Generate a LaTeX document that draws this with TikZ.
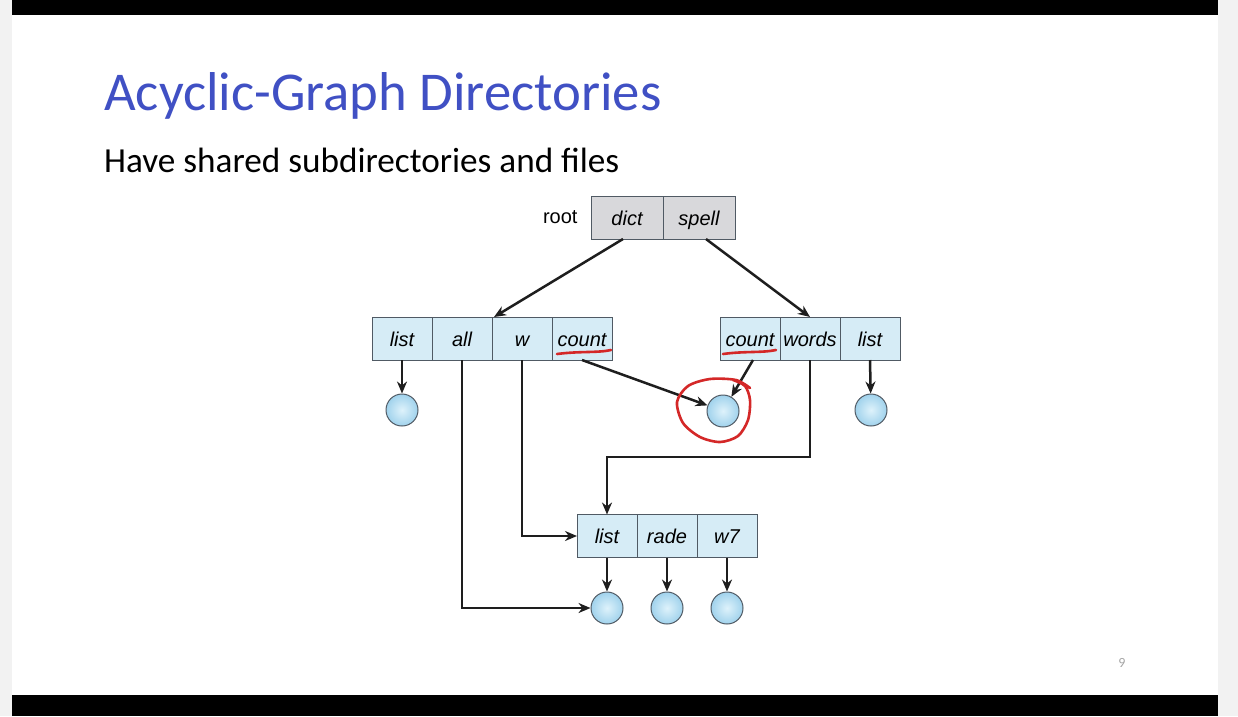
\documentclass[tikz,border=0pt]{standalone}
\usepackage{fontspec}
\setmainfont{Carlito}
\newfontfamily\cellfont{Liberation Sans}
\usetikzlibrary{positioning,arrows.meta}

\begin{document}
\begin{tikzpicture}[x=1pt, y=-1pt,
  cell/.style={draw=cellline, fill=dirblue, line width=1pt, minimum width=60pt,
    minimum height=43pt, inner sep=0pt, outer sep=0pt, text height=17pt, text depth=2pt,
    font=\cellfont\fontsize{20}{20}\selectfont\itshape},
  rootcell/.style={cell, fill=rootgray, minimum width=72pt},
  file/.style={circle, draw=cellline, line width=1pt, minimum size=32pt, inner sep=0pt,
    inner color=fileinner, outer color=fileouter},
  link/.style={draw=linkcol, line width=2.5pt, -{Stealth[length=12pt,width=10pt]}},
  redmark/.style={draw=markred, line width=2.6pt, line cap=round, line join=round}]
\definecolor{cellline}{RGB}{80,90,100}
\definecolor{dirblue}{RGB}{214,236,246}
\definecolor{rootgray}{RGB}{216,216,219}
\definecolor{fileinner}{RGB}{222,242,251}
\definecolor{fileouter}{RGB}{160,210,236}
\definecolor{linkcol}{RGB}{30,30,30}
\definecolor{markred}{RGB}{212,40,40}
\definecolor{titleblue}{RGB}{64,80,196}
\definecolor{sidegray}{gray}{0.95}

% slide background
\useasboundingbox (0,0) rectangle (1238,716);
\fill[white] (0,0) rectangle (1238,716);
\fill[sidegray] (0,0) rectangle (12,716);
\fill[sidegray] (1218,0) rectangle (1238,716);
\fill[black] (12,0) rectangle (1218,15);
\fill[black] (12,695) rectangle (1218,716);

\node[anchor=base west, inner sep=0pt, text=titleblue, font=\fontsize{54.7}{60}\selectfont]
  (title) at (104,110) {Acyclic-Graph Directories};
\node[anchor=base west, inner sep=0pt, font=\fontsize{35.2}{40}\selectfont]
  (subtitle) at (104,172) {Have shared subdirectories and files};
\node[text=gray!70, font=\fontsize{14}{14}\selectfont] (pagenum) at (1122,663) {9};

% root directory
\node[rootcell] (rdict) at (627,217.5) {dict};
\node[rootcell, right=0pt of rdict] (rspell) {spell};
\node[left=10pt of rdict, font=\cellfont\fontsize{20}{20}\selectfont] (rootlbl) {root};

% dict and spell
\node[cell] (llist) at (402,338.5) {list};
\node[cell, right=0pt of llist] (lall) {all};
\node[cell, right=0pt of lall] (lw) {w};
\node[cell, right=0pt of lw] (lcount) {count};
\node[cell] (rcount) at (750,338.5) {count};
\node[cell, right=0pt of rcount] (rwords) {words};
\node[cell, right=0pt of rwords] (rlist) {list};

% shared subdirectory
\node[cell] (tlist) at (607,536) {list};
\node[cell, right=0pt of tlist] (trade) {rade};
\node[cell, right=0pt of trade] (tw7) {w7};

% files
\node[file] (f1) at (402,410) {};
\node[file] (fshared) at (723,411) {};
\node[file] (f3) at (871,410) {};
\node[file] (g1) at (607,608) {};
\node[file] (g2) at (667,608) {};
\node[file] (g3) at (727,608) {};
\coordinate (wbend) at (0,457);

\draw[link] ([xshift=-4pt]rdict.south) -- ([xshift=2pt]lw.north west);
\draw[link] ([xshift=7pt]rspell.south) -- (rwords.north);
\draw[link] (llist.south) -- (f1);
\draw[link] (lcount.south) -- (fshared);
\draw[link] ([xshift=3pt]rcount.south) -- (fshared);
\draw[link] (rlist.south) -- (f3);
\draw[link] (lall.south) |- (g1);
\draw[link] (lw.south) |- (tlist.west);
\draw[link] (rwords.south) -- (rwords.south |- wbend) -| (tlist.north);
\draw[link] (tlist.south) -- (g1);
\draw[link] (trade.south) -- (g2);
\draw[link] (tw7.south) -- (g3);

% red pen marks
\draw[redmark] (557,354) .. controls (580,351) and (598,353) .. (611,350);
\draw[redmark] (723,354) .. controls (745,351) and (762,353) .. (776,350);
\draw[redmark] plot[smooth] coordinates {(750,388) (736,380) (710,379) (688,386) (677,402)
  (683,423) (700,437) (720,442) (738,436) (748,420) (750,400) (745,386) (733,380)};
\end{tikzpicture}
\end{document}
